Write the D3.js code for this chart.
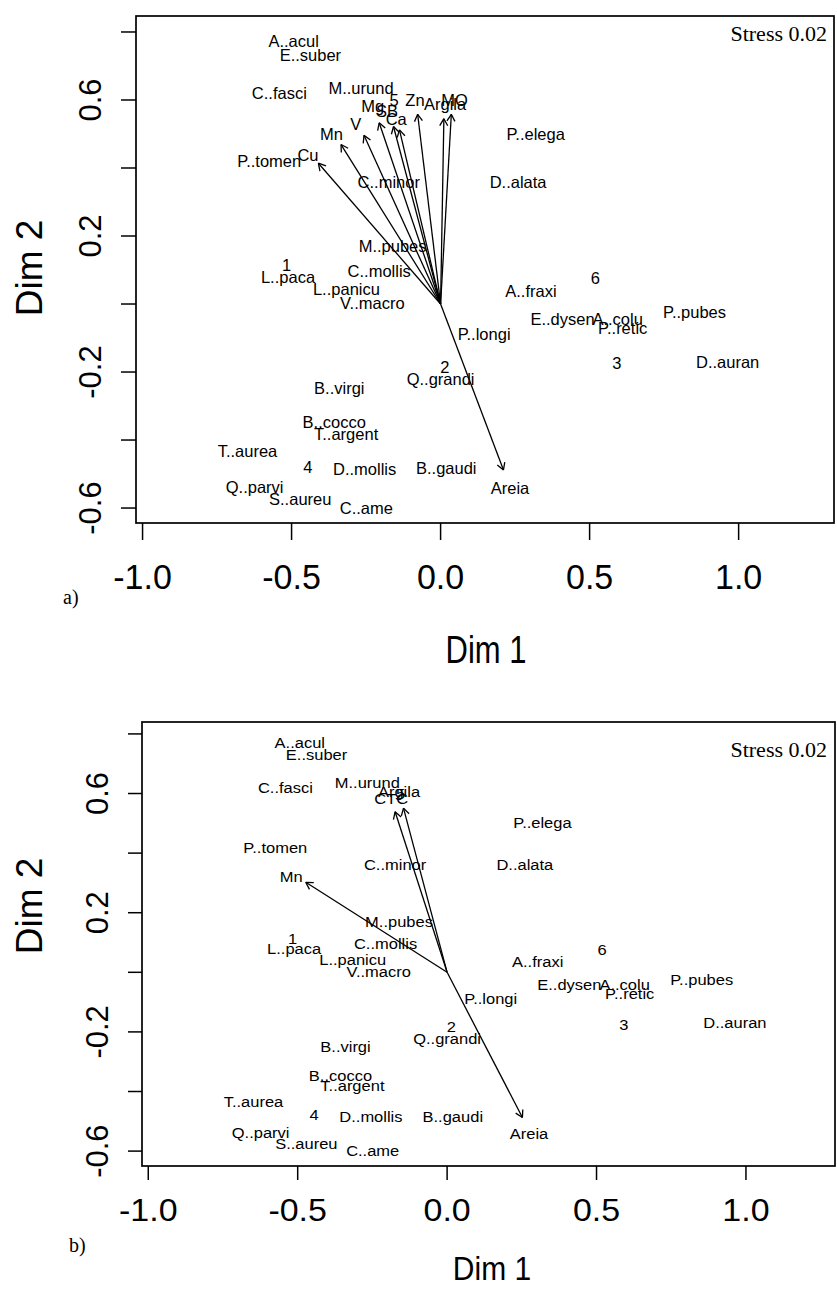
<!DOCTYPE html>
<html><head><meta charset="utf-8">
<script src="https://cdn.jsdelivr.net/npm/d3@7"></script>
<style>body{margin:0;background:#fff}svg{display:block}</style>
</head><body><svg id="c" width="837" height="1289"></svg>
<script>
// ---- DATA ----
const pointLabels = ["A..acul","E..suber","C..fasci","M..urund","P..tomen","C..minor","P..elega","D..alata","M..pubes","1","L..paca","C..mollis","L..panicu","V..macro","A..fraxi","P..longi","2","Q..grandi","B..virgi","B..cocco","T..argent","T..aurea","4","D..mollis","B..gaudi","Q..parvi","S..aureu","C..ame","6","E..dysen","A..colu","P..retic","P..pubes","3","D..auran","5"];
const pointX = [-0.493,-0.437,-0.541,-0.267,-0.575,-0.174,0.319,0.260,-0.161,-0.517,-0.512,-0.206,-0.316,-0.229,0.303,0.146,0.014,0.000,-0.340,-0.357,-0.317,-0.648,-0.445,-0.255,0.019,-0.624,-0.471,-0.249,0.519,0.409,0.594,0.611,0.852,0.591,0.963,-0.156];
const pointY = [0.772,0.732,0.621,0.636,0.419,0.360,0.501,0.360,0.170,0.114,0.079,0.096,0.044,0.002,0.037,-0.089,-0.184,-0.222,-0.248,-0.347,-0.381,-0.433,-0.479,-0.484,-0.483,-0.539,-0.574,-0.600,0.077,-0.043,-0.043,-0.071,-0.025,-0.174,-0.170,0.600];

const vecNamesA = ["Cu","Mn","V","Mg","SB","Ca","Zn","Argila","MO","Areia"];
const vecTipXA  = [-0.410,-0.334,-0.257,-0.206,-0.158,-0.138,-0.077,0.011,0.036,0.211];
const vecTipYA  = [0.414,0.469,0.496,0.533,0.522,0.512,0.558,0.545,0.558,-0.488];
const vecLabXA  = [-0.445,-0.366,-0.285,-0.228,-0.180,-0.149,-0.086,0.015,0.047,0.233];
const vecLabYA  = [0.438,0.499,0.528,0.582,0.568,0.543,0.600,0.588,0.600,-0.541];

const vecNamesB = ["Mn","CTC","Argila","Areia"];
const vecTipXB  = [-0.473,-0.174,-0.146,0.252];
const vecTipYB  = [0.302,0.539,0.551,-0.487];
const vecLabXB  = [-0.522,-0.187,-0.161,0.274];
const vecLabYB  = [0.321,0.582,0.605,-0.543];

const xTicks = [-1.0,-0.5,0.0,0.5,1.0];
const xTickLabels = ["-1.0","-0.5","0.0","0.5","1.0"];
const yTicks = [-0.6,-0.4,-0.2,0.0,0.2,0.4,0.6,0.8];
const yTickLabels = ["-0.6","","-0.2","","0.2","","0.6",""];
const xTitle = "Dim 1";
const yTitle = "Dim 2";
const stressText = "Stress 0.02";
const panelTags = ["a)","b)"];

// ---- LAYOUT ----
const SANS = "'Liberation Sans', Arial, Helvetica, sans-serif";
const SERIF = "'Liberation Serif', 'Times New Roman', serif";
const panels = [
  {tag:panelTags[0], left:136,right:834,top:16,bottom:523, xDom:[-1.022,1.320], yDom:[-0.644,0.847],
   vn:vecNamesA, vx:vecTipXA, vy:vecTipYA, lx:vecLabXA, ly:vecLabYA,
   labSY:1.0, tickSY:1.05, xTickBase:589, yTickBase:101, xTickLen:17, yTickLen:15,
   dim1X:486, dim1Base:663, dim1Size:31, dim1SY:1.25, dim2Y:268, dim2Base:42,
   tagX:63, tagBase:604, stressBase:41},
  {tag:panelTags[1], left:142,right:835,top:722,bottom:1166, xDom:[-1.021,1.298], yDom:[-0.650,0.840],
   vn:vecNamesB, vx:vecTipXB, vy:vecTipYB, lx:vecLabXB, ly:vecLabYB,
   labSY:0.9, tickSY:0.9, xTickBase:1221, yTickBase:108, xTickLen:14, yTickLen:14,
   dim1X:492, dim1Base:1280, dim1Size:30, dim1SY:1.08, dim2Y:906, dim2Base:42,
   tagX:69, tagBase:1252, stressBase:757}
];

const svg = d3.select("#c");
svg.append("rect").attr("width",837).attr("height",1289).attr("fill","#fff");

function txt(g, x, y, s, o) {
  const t = g.append("text")
    .attr("transform", `translate(${x},${y}) rotate(${o.rot||0}) scale(1,${o.sy||1})`)
    .attr("font-family", o.family || SANS)
    .attr("font-size", o.size)
    .attr("text-anchor", o.anchor || "middle")
    .attr("fill", "#000")
    .text(s);
  if (o.dy) t.attr("dy", o.dy);
  return t;
}

panels.forEach(p => {
  const g = svg.append("g");
  const x = d3.scaleLinear().domain(p.xDom).range([p.left, p.right]);
  const y = d3.scaleLinear().domain(p.yDom).range([p.bottom, p.top]);

  // box
  g.append("rect").attr("x", p.left).attr("y", p.top)
    .attr("width", p.right - p.left).attr("height", p.bottom - p.top)
    .attr("fill", "none").attr("stroke", "#000").attr("stroke-width", 1.7);

  // x axis ticks
  const xa = g.append("g");
  xTicks.forEach((v, i) => {
    xa.append("line").attr("x1", x(v)).attr("x2", x(v))
      .attr("y1", p.bottom).attr("y2", p.bottom + p.xTickLen)
      .attr("stroke", "#000").attr("stroke-width", 1.5);
    txt(xa, x(v), p.xTickBase, xTickLabels[i], {size:34, sy:p.tickSY});
  });
  // y axis ticks
  yTicks.forEach((v, i) => {
    xa.append("line").attr("y1", y(v)).attr("y2", y(v))
      .attr("x1", p.left - p.yTickLen).attr("x2", p.left)
      .attr("stroke", "#000").attr("stroke-width", 1.5);
    if (yTickLabels[i]) txt(xa, p.yTickBase, y(v), yTickLabels[i], {size:31, rot:-90});
  });

  // titles
  txt(g, p.dim1X, p.dim1Base, xTitle, {size:p.dim1Size, sy:p.dim1SY});
  txt(g, p.dim2Base, p.dim2Y, yTitle, {size:37, rot:-90});
  txt(g, p.tagX, p.tagBase, p.tag, {size:20, family:SERIF, anchor:"start"});
  txt(g, 827, p.stressBase, stressText, {size:22, family:SERIF, anchor:"end"});

  // point labels (species and sites)
  pointLabels.forEach((s, i) => {
    txt(g, x(pointX[i]), y(pointY[i]), s, {size:16.5, sy:p.labSY, dy:"0.36em"});
  });

  // environmental vectors
  const ox = x(0), oy = y(0);
  p.vn.forEach((name, i) => {
    const tx = x(p.vx[i]), ty = y(p.vy[i]);
    g.append("line").attr("x1", ox).attr("y1", oy).attr("x2", tx).attr("y2", ty)
      .attr("stroke", "#000").attr("stroke-width", 1.3);
    const ang = Math.atan2(ty - oy, tx - ox);
    const L = 8, a = Math.PI / 6;
    [ang + Math.PI - a, ang + Math.PI + a].forEach(t2 => {
      g.append("line").attr("x1", tx).attr("y1", ty)
        .attr("x2", tx + L * Math.cos(t2)).attr("y2", ty + L * Math.sin(t2))
        .attr("stroke", "#000").attr("stroke-width", 1.3);
    });
    txt(g, x(p.lx[i]), y(p.ly[i]), name, {size:16.5, sy:p.labSY, dy:"0.36em"});
  });
});
</script></body></html>
